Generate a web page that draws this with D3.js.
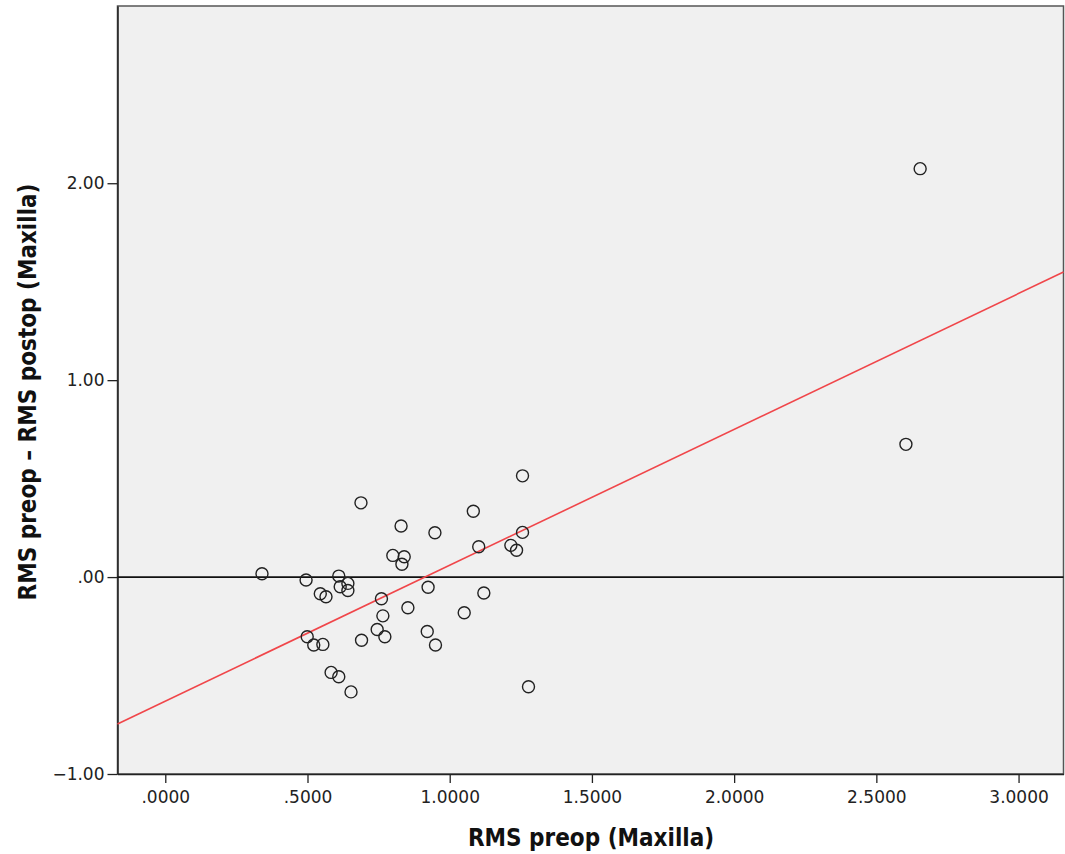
<!DOCTYPE html>
<html lang="en">
<head>
  <meta charset="UTF-8">
  <title>RMS preop vs difference</title>
  <style type="text/css">
    body { margin: 0; padding: 0; background: #fff; }
    .tick text { font-family: "DejaVu Sans", sans-serif; font-size: 17px; fill: #222; }
    .title { font-family: "Liberation Sans Narrow", "DejaVu Sans Condensed", sans-serif; font-weight: bold; font-size: 24px; fill: #111; }
  </style>
  <script src="https://cdn.jsdelivr.net/npm/d3@7"></script>
</head>
<body>
<div id="viewport"></div>
<script>
// RMS preop (Maxilla)
var rmsPreop = [0.340, 0.495, 0.499, 0.522, 0.554, 0.545, 0.565, 0.583, 0.610, 0.610,
                0.615, 0.642, 0.642, 0.653, 0.688, 0.690, 0.745, 0.760, 0.765, 0.772,
                0.800, 0.840, 0.832, 0.829, 0.853, 0.924, 0.921, 0.948, 0.950, 1.051,
                1.083, 1.102, 1.120, 1.215, 1.235, 1.256, 1.256, 1.277, 2.604, 2.654];
// RMS preop - RMS postop (Maxilla)
var rmsDiff = [0.017, -0.015, -0.303, -0.345, -0.342, -0.085, -0.100, -0.484, -0.506, 0.005,
               -0.049, -0.032, -0.068, -0.583, 0.377, -0.321, -0.266, -0.110, -0.197, -0.303,
               0.110, 0.103, 0.065, 0.259, -0.156, -0.052, -0.276, 0.225, -0.345, -0.181,
               0.334, 0.154, -0.081, 0.161, 0.136, 0.514, 0.227, -0.557, 0.674, 2.074];
var xTicks = [0, 0.5, 1, 1.5, 2, 2.5, 3];
var yTicks = [-1, 0, 1, 2];
// fit line
var fitIntercept = -0.63, fitSlope = 0.69;

var W = 1065, H = 854;
var m = {left: 117.5, right: 1.5, top: 6, bottom: 80};

var svg = d3.select("#viewport").append("svg")
            .attr("width", W).attr("height", H);

var x = d3.scaleLinear().domain([-0.168, 3.158]).range([m.left, W - m.right]);
var y = d3.scaleLinear().domain([-1, 2.9]).range([H - m.bottom, m.top]);

svg.append("rect")
   .attr("x", x.range()[0]).attr("y", m.top)
   .attr("width", x.range()[1] - x.range()[0])
   .attr("height", y.range()[0] - m.top)
   .attr("fill", "#f0f0f0")
   .attr("stroke", "#555").attr("stroke-width", 1.5);

var gx = svg.append("g")
   .attr("transform", "translate(0," + y.range()[0] + ")")
   .call(d3.axisBottom(x).tickValues(xTicks).tickSizeInner(9).tickSizeOuter(0).tickPadding(8)
           .tickFormat(function(d) { return d3.format(".4f")(d).replace(/^0/, ""); }));
gx.select(".domain").attr("stroke", "#222").attr("stroke-width", 1.5);
gx.selectAll(".tick line").attr("stroke", "#222").attr("stroke-width", 1.3);

var gy = svg.append("g")
   .attr("transform", "translate(" + x.range()[0] + ",0)")
   .call(d3.axisLeft(y).tickValues(yTicks).tickSizeInner(10).tickSizeOuter(0).tickPadding(3)
           .tickFormat(function(d) { return d3.format(".2f")(d).replace(/^(-?)0/, "$1").replace("-", "\u2212"); }));
gy.select(".domain").attr("stroke", "#222").attr("stroke-width", 1.5);
gy.selectAll(".tick line").attr("stroke", "#222").attr("stroke-width", 1.3);

// zero reference line
svg.append("line")
   .attr("x1", x.range()[0]).attr("x2", x.range()[1])
   .attr("y1", y(0)).attr("y2", y(0))
   .attr("stroke", "#111").attr("stroke-width", 1.6);

// fit line
var xd = x.domain();
svg.append("line")
   .attr("x1", x(xd[0])).attr("y1", y(fitIntercept + fitSlope * xd[0]))
   .attr("x2", x(xd[1])).attr("y2", y(fitIntercept + fitSlope * xd[1]))
   .attr("stroke", "#f0464a").attr("stroke-width", 1.6);

svg.append("g").selectAll("circle")
   .data(d3.range(rmsPreop.length))
   .enter().append("circle")
   .attr("cx", function(i) { return x(rmsPreop[i]); })
   .attr("cy", function(i) { return y(rmsDiff[i]); })
   .attr("r", 6)
   .attr("fill", "none")
   .attr("stroke", "#222")
   .attr("stroke-width", 1.4);

svg.append("text").attr("class", "title")
   .attr("x", 591).attr("y", 846)
   .attr("text-anchor", "middle")
   .text("RMS preop (Maxilla)");

svg.append("text").attr("class", "title")
   .attr("transform", "translate(36,392) rotate(-90)")
   .attr("text-anchor", "middle")
   .text("RMS preop \u2013 RMS postop (Maxilla)");
</script>
</body>
</html>
